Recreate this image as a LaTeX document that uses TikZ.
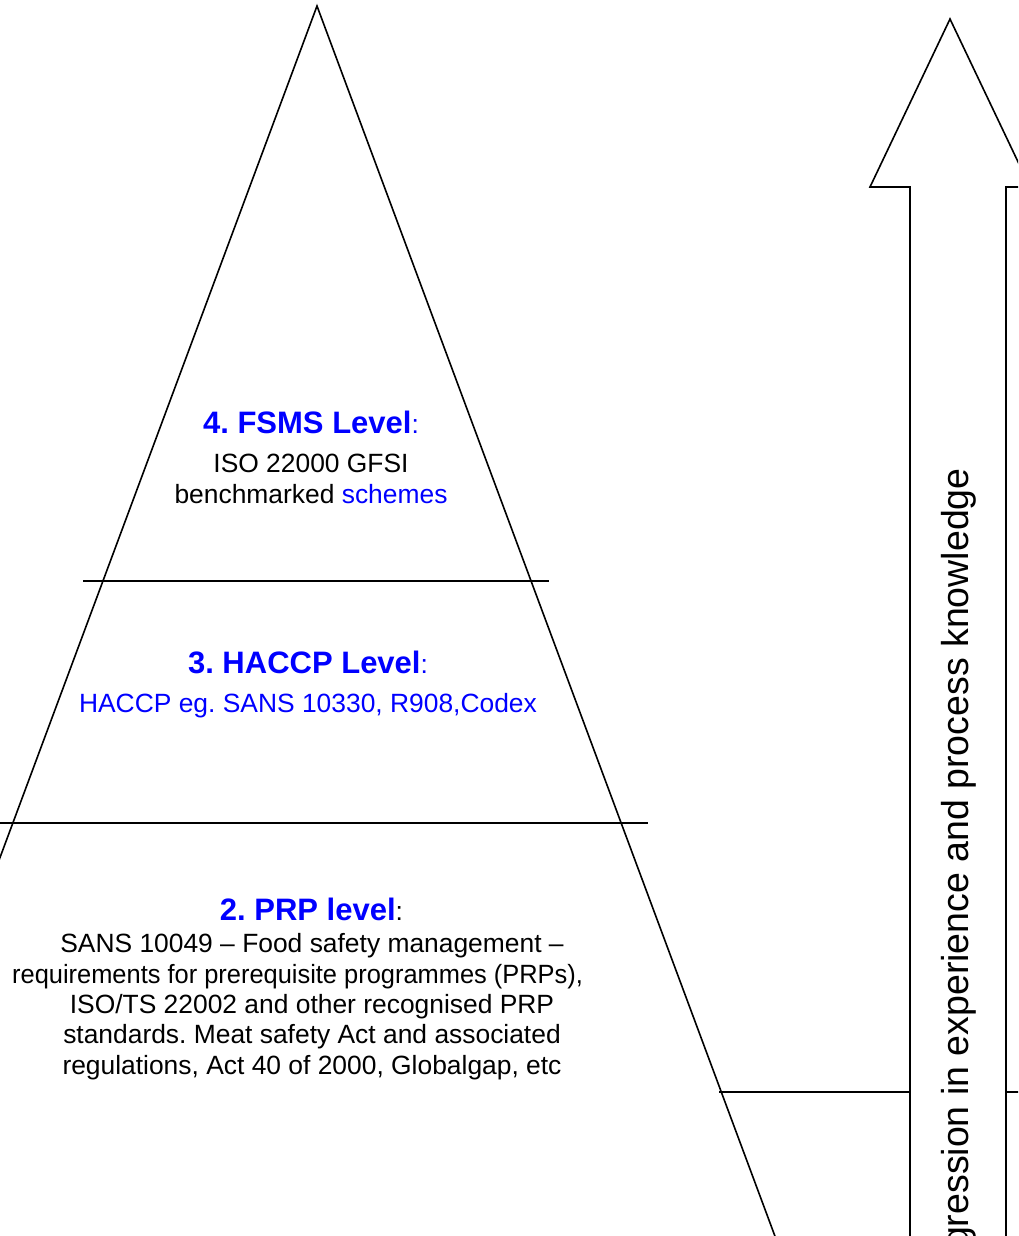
\documentclass[tikz,border=0pt]{standalone}
\usepackage{fontspec}
\setmainfont{Liberation Sans}
\frenchspacing
\definecolor{hblue}{RGB}{0,0,255}
\tikzset{
  outline/.style={line width=1.6pt, draw=black},
  heading/.style={font=\fontsize{31}{37}\selectfont\bfseries, text=hblue, inner sep=0pt, anchor=base},
  bodytext/.style={font=\fontsize{26.4}{30.3}\selectfont, inner sep=0pt, anchor=base, align=center},
  sidetext/.style={font=\fontsize{37.5}{43}\selectfont, inner sep=0pt, rotate=90, anchor=base east}
}
\newcommand{\hcolon}{{\mdseries\fontsize{26.4}{31}\selectfont :}}
\begin{document}
\begin{tikzpicture}[x=1pt,y=-1pt]
\useasboundingbox (0,0) rectangle (1018,1236);
\clip (0,0) rectangle (1018,1236);
% pyramid
\coordinate (apex) at (317,6);
\coordinate (pl) at (-161,1290);
\coordinate (pr) at (795,1290);
\draw[outline] (pl) -- (apex) -- (pr);
% dividing lines
\coordinate (l1a) at (83,581);  \coordinate (l1b) at (549,581);
\coordinate (l2a) at (-20,823); \coordinate (l2b) at (648,823);
\coordinate (l3a) at (719,1092); \coordinate (l3b) at (1040,1092);
\draw[outline] (l1a) -- (l1b);
\draw[outline] (l2a) -- (l2b);
\draw[outline] (l3a) -- (l3b);
% arrow
\draw[outline, fill=white] (910,1300) -- (910,187) -- (870,187) -- (950,19) -- (1030,187) -- (1006,187) -- (1006,1300) -- cycle;
\node[sidetext] (prog) at (968,468) {Progression in experience and process knowledge};
% level 4
\node[heading] (h4) at (311,433) {4. FSMS Level\hcolon};
\node[bodytext] (b4) at (311,503) {ISO 22000 GFSI\\benchmarked \textcolor{hblue}{schemes}};
% level 3
\node[heading] (h3) at (308,673) {3. HACCP Level\hcolon};
\node[bodytext, text=hblue] (b3) at (308,712) {HACCP eg. SANS 10330, R908,Codex};
% level 2
\node[heading] (h2) at (311.5,920) {2. PRP level{\color{black}\hcolon}};
\node[bodytext] (b2) at (312,1074) {SANS 10049 -- Food safety management --\\\makebox[542pt][r]{\scalebox{0.963}[1]{requirements for prerequisite programmes (PRPs),}}\\ISO/TS 22002 and other recognised PRP\\standards. Meat safety Act and associated\\regulations, Act 40 of 2000, Globalgap, etc};
\end{tikzpicture}
\end{document}
